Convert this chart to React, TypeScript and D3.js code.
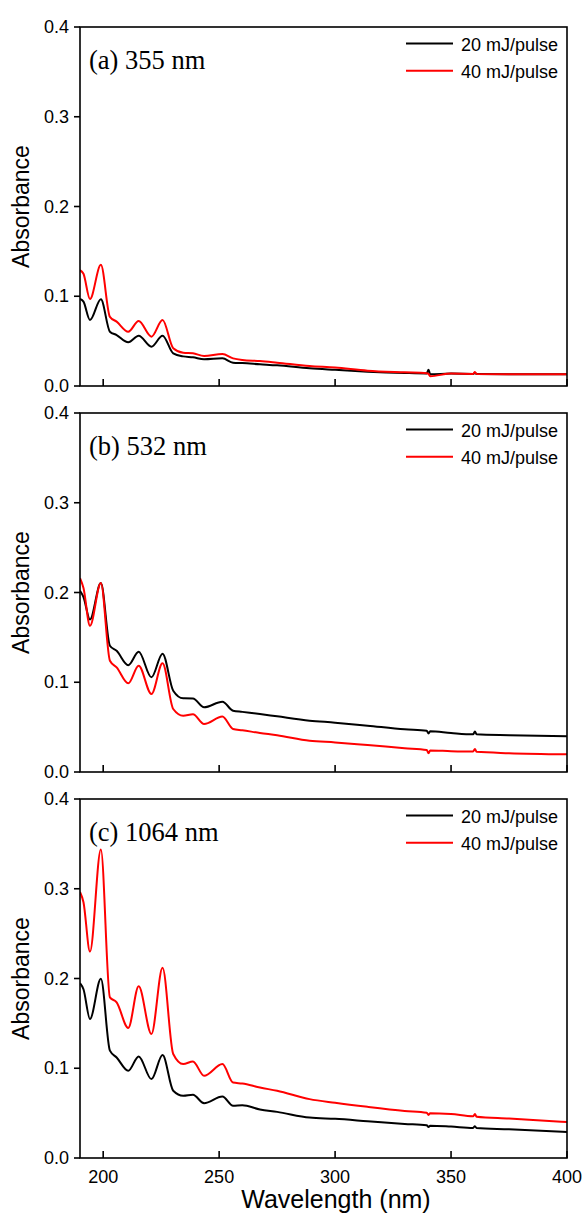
import React from "react";
import * as d3 from "d3";

const WL = [190, 191.5, 194.3, 199, 202.9, 205.8, 210.8, 215.3, 220.8, 225.6, 230.2, 234.5, 238.7, 243.5, 251.4, 256, 260, 267.6, 275, 289, 300, 314, 330, 339.5, 340.3, 341, 350, 359.5, 360.3, 361, 375, 400];

const A20 = [0.097, 0.094, 0.0735, 0.0966, 0.0605, 0.0568, 0.0487, 0.056, 0.0438, 0.056, 0.0364, 0.033, 0.032, 0.0297, 0.0308, 0.026, 0.0255, 0.0242, 0.023, 0.0197, 0.018, 0.016, 0.0145, 0.014, 0.018, 0.013, 0.0138, 0.0135, 0.0145, 0.0133, 0.013, 0.013];
const A40 = [0.129, 0.125, 0.097, 0.135, 0.077, 0.0717, 0.0605, 0.0724, 0.055, 0.0735, 0.042, 0.037, 0.0364, 0.0334, 0.0356, 0.0308, 0.029, 0.0278, 0.026, 0.0223, 0.0205, 0.017, 0.0152, 0.0143, 0.0135, 0.011, 0.0138, 0.0135, 0.0155, 0.0133, 0.013, 0.013];

const B20 = [0.202, 0.195, 0.17, 0.2106, 0.1407, 0.135, 0.119, 0.134, 0.1055, 0.1318, 0.0906, 0.0821, 0.082, 0.0721, 0.0783, 0.0683, 0.067, 0.0646, 0.062, 0.0572, 0.055, 0.0516, 0.0475, 0.046, 0.043, 0.0455, 0.0435, 0.042, 0.045, 0.042, 0.041, 0.0398];
const B40 = [0.216, 0.205, 0.163, 0.2106, 0.124, 0.1166, 0.0988, 0.1184, 0.0869, 0.1211, 0.0702, 0.0627, 0.0643, 0.0535, 0.0617, 0.0479, 0.0465, 0.0435, 0.041, 0.0349, 0.033, 0.03, 0.0265, 0.0245, 0.021, 0.024, 0.0232, 0.0228, 0.0255, 0.0225, 0.021, 0.0197];

const C20 = [0.1948, 0.188, 0.155, 0.1997, 0.1196, 0.112, 0.0972, 0.1132, 0.0879, 0.1147, 0.0749, 0.0693, 0.0704, 0.0611, 0.0685, 0.0581, 0.0589, 0.054, 0.0514, 0.045, 0.0436, 0.041, 0.038, 0.0365, 0.0345, 0.036, 0.035, 0.0335, 0.0355, 0.0333, 0.032, 0.029];
const C40 = [0.2964, 0.285, 0.23, 0.3438, 0.179, 0.1735, 0.1449, 0.1914, 0.1382, 0.212, 0.1159, 0.1047, 0.1076, 0.0916, 0.1047, 0.0841, 0.083, 0.0785, 0.0749, 0.0656, 0.0615, 0.057, 0.0525, 0.0505, 0.048, 0.05, 0.049, 0.0465, 0.049, 0.046, 0.044, 0.04];

const PANEL_LABELS = ["(a) 355 nm", "(b) 532 nm", "(c) 1064 nm"];
const SERIES_NAMES = ["20 mJ/pulse", "40 mJ/pulse"];
const SERIES_COLORS = ["#000000", "#ff0000"];
const PANEL_DATA = [[A20, A40], [B20, B40], [C20, C40]];
const X_TICKS = [200, 250, 300, 350, 400];
const Y_TICKS = [0.0, 0.1, 0.2, 0.3, 0.4];

const W = 585;
const H = 1214;
const LEFT = 80;
const RIGHT = 567;
const PANEL_TOP0 = 27;
const PANEL_STEP = 386;
const PANEL_H = 359;
const SANS = "'Liberation Sans', Arial, sans-serif";
const SERIF = "'Liberation Serif', 'Times New Roman', serif";

export default function App() {
  const x = d3.scaleLinear().domain([190, 400]).range([LEFT, RIGHT]);
  return (
    <div style={{ position: "absolute", left: 0, top: 0 }}>
      <svg width={W} height={H} style={{ display: "block", background: "#fff" }}>
        {PANEL_DATA.map((series, pi) => {
          const top = PANEL_TOP0 + pi * PANEL_STEP;
          const bottom = top + PANEL_H;
          const y = d3.scaleLinear().domain([0, 0.4]).range([bottom, top]);
          const line = d3
            .line<number>()
            .x((_, i) => x(WL[i]))
            .y((v) => y(v))
            .curve(d3.curveMonotoneX);
          return (
            <g key={pi}>
              <defs>
                <clipPath id={`clip${pi}`}>
                  <rect x={LEFT} y={top} width={RIGHT - LEFT} height={PANEL_H} />
                </clipPath>
              </defs>
              <g clipPath={`url(#clip${pi})`}>
                {series.map((vals, si) => (
                  <path
                    key={si}
                    d={line(vals) || ""}
                    fill="none"
                    stroke={SERIES_COLORS[si]}
                    strokeWidth={2}
                    strokeLinejoin="round"
                  />
                ))}
              </g>
              <rect x={LEFT} y={top} width={RIGHT - LEFT} height={PANEL_H} fill="none" stroke="#000" strokeWidth={1.6} />
              {X_TICKS.map((t) => (
                <line key={t} x1={x(t)} x2={x(t)} y1={bottom} y2={bottom - 7} stroke="#000" strokeWidth={1.6} />
              ))}
              {Y_TICKS.map((t) => (
                <g key={t}>
                  <line x1={LEFT - 6} x2={LEFT} y1={y(t)} y2={y(t)} stroke="#000" strokeWidth={1.6} />
                  <text x={LEFT - 11} y={y(t) + 6} textAnchor="end" fontFamily={SANS} fontSize={18} fill="#000">
                    {t.toFixed(1)}
                  </text>
                </g>
              ))}
              {pi === PANEL_DATA.length - 1 &&
                X_TICKS.map((t) => (
                  <text key={t} x={x(t)} y={bottom + 25} textAnchor="middle" fontFamily={SANS} fontSize={18} fill="#000">
                    {t}
                  </text>
                ))}
              <text
                transform={`translate(28.5,${(top + bottom) / 2}) rotate(-90)`}
                textAnchor="middle"
                fontFamily={SANS}
                fontSize={23}
                fill="#000"
              >
                Absorbance
              </text>
              <text x={89} y={top + 42} fontFamily={SERIF} fontSize={26.5} fill="#000">
                {PANEL_LABELS[pi]}
              </text>
              {SERIES_NAMES.map((name, si) => {
                const ly = top + 16.5 + si * 27.3;
                return (
                  <g key={name}>
                    <line x1={406} x2={453} y1={ly} y2={ly} stroke={SERIES_COLORS[si]} strokeWidth={2} />
                    <text x={461} y={ly + 7} fontFamily={SANS} fontSize={18} fill="#000">
                      {name}
                    </text>
                  </g>
                );
              })}
            </g>
          );
        })}
        <text x={336} y={1208} textAnchor="middle" fontFamily={SANS} fontSize={25} fill="#000">
          Wavelength (nm)
        </text>
      </svg>
    </div>
  );
}
